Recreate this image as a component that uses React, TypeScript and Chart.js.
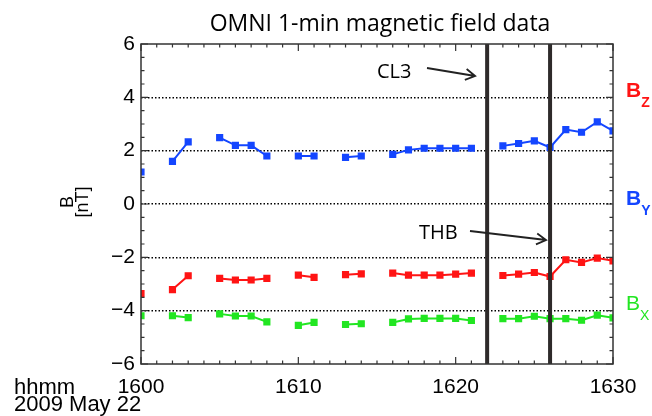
import React, { useEffect, useRef } from "react";
import { Chart, registerables } from "chart.js";

Chart.register(...registerables);

// ---- data (minutes hhmm, nT) ----
const minutes = [
  1600, 1601, 1602, 1603, 1604, 1605, 1606, 1607, 1608, 1609, 1610, 1611, 1612, 1613, 1614, 1615,
  1616, 1617, 1618, 1619, 1620, 1621, 1622, 1623, 1624, 1625, 1626, 1627, 1628, 1629, 1630,
];
const byValues = [
  1.2, null, 1.6, 2.33, null, 2.49, 2.2, 2.2, 1.8, null, 1.8, 1.8, null, 1.75, 1.8, null,
  1.86, 2.03, 2.09, 2.09, 2.09, 2.09, null, 2.18, 2.27, 2.37, 2.12, 2.79, 2.69, 3.08, 2.74,
];
const bzValues = [
  -3.36, null, -3.21, -2.69, null, -2.79, -2.85, -2.85, -2.79, null, -2.67, -2.75, null, -2.65, -2.62, null,
  -2.59, -2.67, -2.67, -2.67, -2.63, -2.59, null, -2.68, -2.63, -2.57, -2.72, -2.09, -2.19, -2.03, -2.13,
];
const bxValues = [
  -4.19, null, -4.19, -4.26, null, -4.12, -4.2, -4.2, -4.42, null, -4.55, -4.44, null, -4.52, -4.49, null,
  -4.44, -4.31, -4.29, -4.29, -4.29, -4.37, null, -4.3, -4.3, -4.21, -4.3, -4.3, -4.36, -4.17, -4.27,
];
const xTickLabels = [1600, 1610, 1620, 1630];
const yTickValues = [-6, -4, -2, 0, 2, 4, 6];
const eventTimes = [1622, 1626];
const eventNames = ["CL3", "THB"];

const title = "OMNI 1-min magnetic field data";
const dateLabel = "2009 May 22";
const timeLabel = "hhmm";

const BLUE = "#1446ff";
const RED = "#ff1414";
const GREEN = "#22e622";
const AXIS_FONT = "'Liberation Sans', Arial, Helvetica, sans-serif";
const ANNOT_FONT = "'Open Sans', 'Noto Sans', sans-serif";

function drawArrow(ctx: CanvasRenderingContext2D, x1: number, y1: number, x2: number, y2: number) {
  const ang = Math.atan2(y2 - y1, x2 - x1);
  const hl = 11;
  const ha = (30 * Math.PI) / 180;
  ctx.beginPath();
  ctx.moveTo(x1, y1);
  ctx.lineTo(x2, y2);
  ctx.moveTo(x2 - hl * Math.cos(ang - ha), y2 - hl * Math.sin(ang - ha));
  ctx.lineTo(x2, y2);
  ctx.lineTo(x2 - hl * Math.cos(ang + ha), y2 - hl * Math.sin(ang + ha));
  ctx.stroke();
}

const decorPlugin = {
  id: "decor",
  afterDatasetsDraw(chart: any) {
    const ctx: CanvasRenderingContext2D = chart.ctx;
    const { left, right, top, bottom } = chart.chartArea;
    const xs = chart.scales.x;
    const ys = chart.scales.y;
    ctx.save();
    // event lines
    ctx.strokeStyle = "#2e2a2a";
    ctx.lineWidth = 4;
    eventTimes.forEach((t) => {
      const px = xs.getPixelForValue(t);
      ctx.beginPath();
      ctx.moveTo(px, top);
      ctx.lineTo(px, bottom);
      ctx.stroke();
    });
    // frame
    ctx.strokeStyle = "#333";
    ctx.lineWidth = 1.5;
    ctx.strokeRect(left, top, right - left, bottom - top);
    // inward ticks
    ctx.lineWidth = 1.2;
    for (let v = -6; v <= 6.001; v += 0.5) {
      const py = ys.getPixelForValue(v);
      const len = Math.abs(v % 2) < 1e-6 ? 7 : 3.5;
      ctx.beginPath();
      ctx.moveTo(left, py);
      ctx.lineTo(left + len, py);
      ctx.moveTo(right, py);
      ctx.lineTo(right - len, py);
      ctx.stroke();
    }
    for (let m = 1600; m <= 1630; m += 1) {
      const px = xs.getPixelForValue(m);
      const len = m % 10 === 0 ? 7 : 3.5;
      ctx.beginPath();
      ctx.moveTo(px, bottom);
      ctx.lineTo(px, bottom - len);
      ctx.moveTo(px, top);
      ctx.lineTo(px, top + len);
      ctx.stroke();
    }
    ctx.restore();
  },
  afterDraw(chart: any) {
    const ctx: CanvasRenderingContext2D = chart.ctx;
    const { left, right } = chart.chartArea;
    const xs = chart.scales.x;
    ctx.save();
    // title
    ctx.fillStyle = "#000";
    ctx.font = `23px ${ANNOT_FONT}`;
    ctx.textAlign = "center";
    ctx.textBaseline = "alphabetic";
    ctx.fillText(title, (left + right) / 2 + 3, 31);

    // annotations
    ctx.textAlign = "left";
    ctx.font = `20px ${ANNOT_FONT}`;
    ctx.fillText(eventNames[0], 377, 78);
    ctx.fillText(eventNames[1], 419, 239);
    ctx.strokeStyle = "#222";
    ctx.lineWidth = 1.8;
    const l1 = xs.getPixelForValue(eventTimes[0]);
    const l2 = xs.getPixelForValue(eventTimes[1]);
    drawArrow(ctx, 427, 68, l1 - 12, 76);
    drawArrow(ctx, 470, 231, l2 - 4, 240);

    // y axis title
    ctx.save();
    ctx.translate(73, 202);
    ctx.rotate(-Math.PI / 2);
    ctx.textAlign = "center";
    ctx.font = `18px ${AXIS_FONT}`;
    ctx.fillText("B", 0, 0);
    ctx.restore();
    ctx.save();
    ctx.translate(88, 202);
    ctx.rotate(-Math.PI / 2);
    ctx.textAlign = "center";
    ctx.font = `18px ${AXIS_FONT}`;
    ctx.fillText("[nT]", 0, 0);
    ctx.restore();

    // right component labels
    const comp = (main: string, sub: string, color: string, bold: boolean, y: number) => {
      ctx.fillStyle = color;
      ctx.textAlign = "left";
      ctx.font = `${bold ? "bold " : ""}21px ${AXIS_FONT}`;
      const x0 = 626;
      ctx.fillText(main, x0, y);
      const w = ctx.measureText(main).width;
      ctx.font = `${bold ? "bold " : ""}14px ${AXIS_FONT}`;
      ctx.fillText(sub, x0 + w, y + 10);
    };
    comp("B", "Z", RED, true, 97);
    comp("B", "Y", BLUE, true, 205);
    comp("B", "X", GREEN, false, 310);

    // bottom-left labels
    ctx.fillStyle = "#000";
    ctx.textAlign = "left";
    ctx.font = `22px ${AXIS_FONT}`;
    ctx.fillText(timeLabel, 14, 394);
    ctx.fillText(dateLabel, 14, 411);
    ctx.restore();
  },
};

function series(values: (number | null)[], color: string, label: string) {
  return {
    label,
    data: minutes.map((m, i) => ({ x: m, y: values[i] })),
    borderColor: color,
    backgroundColor: color,
    borderWidth: 2,
    pointStyle: "rect",
    pointRadius: 4,
    pointBorderWidth: 1.5,
    pointBorderColor: color,
    pointBackgroundColor: color,
    spanGaps: false,
    tension: 0,
  };
}

export default function App() {
  const ref = useRef<HTMLCanvasElement>(null);
  useEffect(() => {
    if (!ref.current) return;
    const chart = new Chart(ref.current, {
      type: "line",
      data: {
        datasets: [
          series(byValues, BLUE, "BY"),
          series(bzValues, RED, "BZ"),
          series(bxValues, GREEN, "BX"),
        ],
      },
      options: {
        responsive: false,
        animation: false,
        layout: { padding: { top: 44, right: 39, left: 0, bottom: 0 } },
        plugins: {
          legend: { display: false },
          title: { display: false },
          tooltip: { enabled: false },
        },
        scales: {
          x: {
            type: "linear",
            min: 1600,
            max: 1630,
            afterFit: (s: any) => {
              s.height = 52;
            },
            afterBuildTicks: (s: any) => {
              s.ticks = xTickLabels.map((v) => ({ value: v }));
            },
            grid: { display: false, drawTicks: false },
            border: { display: false },
            ticks: {
              padding: 11,
              color: "#000",
              maxRotation: 0,
              autoSkip: false,
              font: { family: AXIS_FONT, size: 21 },
              callback: (v: any) => String(v),
            },
          },
          y: {
            min: -6,
            max: 6,
            afterFit: (s: any) => {
              s.width = 141;
            },
            afterBuildTicks: (s: any) => {
              s.ticks = yTickValues.map((v) => ({ value: v }));
            },
            grid: {
              drawTicks: false,
              lineWidth: 1.5,
              color: (c: any) => (c.tick && Math.abs(c.tick.value) === 6 ? "rgba(0,0,0,0)" : "#000"),
            },
            border: { display: false, dash: [1.5, 2] },
            ticks: {
              padding: 6,
              color: "#000",
              font: { family: AXIS_FONT, size: 21 },
              callback: (v: any) => (Number(v) < 0 ? "\u2212" + Math.abs(Number(v)) : String(v)),
            },
          },
        },
      },
      plugins: [decorPlugin],
    } as any);
    return () => chart.destroy();
  }, []);
  return (
    <div style={{ position: "absolute", left: 0, top: 0, width: 652, height: 416, background: "#fff" }}>
      <canvas ref={ref} width={652} height={416} style={{ display: "block", width: 652, height: 416 }} />
    </div>
  );
}
